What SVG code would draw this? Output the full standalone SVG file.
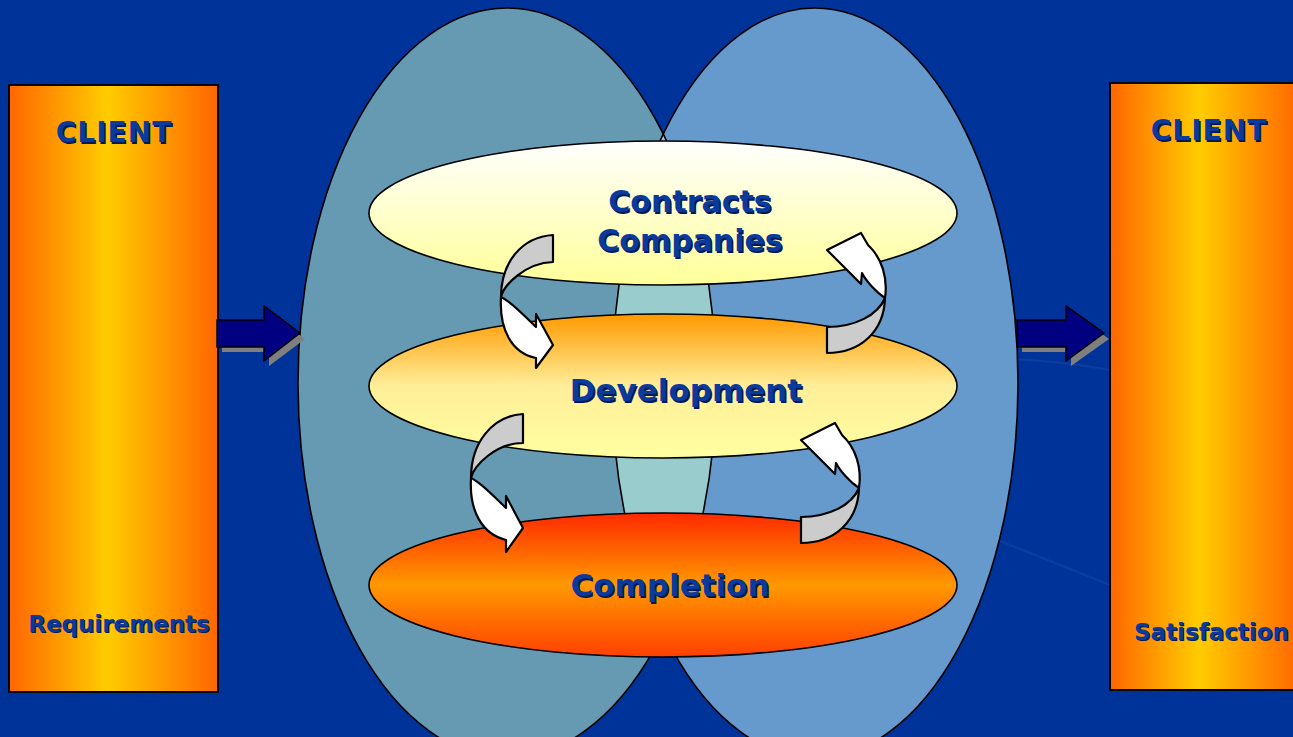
<svg xmlns="http://www.w3.org/2000/svg" width="1293" height="737" viewBox="0 0 1293 737">
<defs>
<style>
.t{font-family:"DejaVu Sans","Liberation Sans",sans-serif;font-weight:bold;fill:#0a3a9c}
.s{font-family:"DejaVu Sans","Liberation Sans",sans-serif;font-weight:bold;fill:#001a55}
.ol{stroke:#000;stroke-width:1.6}
.bar{fill:#000080;stroke:#000;stroke-width:1.5;stroke-linejoin:miter}
.sh{fill:#7f7f7f}
.cg{fill:#cccccc;stroke:#000;stroke-width:2.2;stroke-linejoin:round}
.cw{fill:#ffffff;stroke:#000;stroke-width:2.2;stroke-linejoin:round}
</style>
<linearGradient id="rg" x1="0" y1="0" x2="1" y2="0">
<stop offset="0" stop-color="#ff6600"/><stop offset="0.47" stop-color="#ffcc00"/><stop offset="1" stop-color="#ff6600"/>
</linearGradient>
<linearGradient id="g1" x1="0" y1="0" x2="0" y2="1">
<stop offset="0" stop-color="#ffffff"/><stop offset="1" stop-color="#ffff99"/>
</linearGradient>
<linearGradient id="g2" x1="0" y1="0" x2="0" y2="1">
<stop offset="0" stop-color="#ff9900"/><stop offset="0.5" stop-color="#ffee99"/><stop offset="1" stop-color="#ffffa0"/>
</linearGradient>
<linearGradient id="g3" x1="0" y1="0" x2="0" y2="1">
<stop offset="0" stop-color="#ff2a00"/><stop offset="0.5" stop-color="#ff9900"/><stop offset="1" stop-color="#ff4000"/>
</linearGradient>
<clipPath id="cr"><ellipse cx="815" cy="383" rx="203" ry="375"/></clipPath>
</defs>
<rect x="0" y="0" width="1293" height="737" fill="#003399"/>
<g id="bg-swoosh" fill="none" stroke="#6f8fd0" stroke-opacity="0.12" stroke-width="2">
<path d="M900 365 Q1000 350 1110 370"/>
<path d="M760 450 Q900 500 1110 585"/>
</g>
<g id="big-ellipses">
<ellipse cx="507" cy="383" rx="209" ry="375" fill="#6699b2"/>
<ellipse cx="815" cy="383" rx="203" ry="375" fill="#6699cc"/>
<ellipse cx="507" cy="383" rx="209" ry="375" fill="#99cccc" clip-path="url(#cr)"/>
<ellipse cx="507" cy="383" rx="209" ry="375" fill="none" class="ol"/>
<ellipse cx="815" cy="383" rx="203" ry="375" fill="none" class="ol"/>
</g>
<g id="client-left">
<rect x="9" y="85" width="209" height="607" fill="url(#rg)" stroke="#000" stroke-width="2"/>
<text class="s" x="115.5" y="143.5" font-size="28" text-anchor="middle" letter-spacing="1">CLIENT</text>
<text class="t" x="114" y="142" font-size="28" text-anchor="middle" letter-spacing="1">CLIENT</text>
<text class="s" x="120" y="633" font-size="23" text-anchor="middle">Requirements</text>
<text class="t" x="119" y="632" font-size="23" text-anchor="middle">Requirements</text>
</g>
<g id="client-right">
<rect x="1110" y="83" width="190" height="607" fill="url(#rg)" stroke="#000" stroke-width="2"/>
<text class="s" x="1210.5" y="141.5" font-size="28" text-anchor="middle" letter-spacing="1">CLIENT</text>
<text class="t" x="1209" y="140" font-size="28" text-anchor="middle" letter-spacing="1">CLIENT</text>
<text class="s" x="1135" y="641" font-size="23">Satisfaction</text>
<text class="t" x="1134" y="640" font-size="23">Satisfaction</text>
</g>
<g id="contracts">
<ellipse cx="663" cy="213" rx="294" ry="72" fill="url(#g1)" class="ol"/>
<text class="s" x="691.5" y="213.5" font-size="30" text-anchor="middle">Contracts</text>
<text class="t" x="690" y="212" font-size="30" text-anchor="middle">Contracts</text>
<text class="s" x="691.5" y="252.5" font-size="30" text-anchor="middle">Companies</text>
<text class="t" x="690" y="251" font-size="30" text-anchor="middle">Companies</text>
</g>
<g id="development">
<ellipse cx="663" cy="386" rx="294" ry="72" fill="url(#g2)" class="ol"/>
<text class="s" x="687.5" y="402.5" font-size="31" text-anchor="middle">Development</text>
<text class="t" x="686" y="401" font-size="31" text-anchor="middle">Development</text>
</g>
<g id="completion">
<ellipse cx="663" cy="585" rx="294" ry="72" fill="url(#g3)" class="ol"/>
<text class="s" x="671.5" y="597.5" font-size="31" text-anchor="middle">Completion</text>
<text class="t" x="670" y="596" font-size="31" text-anchor="middle">Completion</text>
</g>
<g id="connectors">
<g id="arrow-in">
<polygon class="sh" points="222,325 269,325 269,312 305,339 269,366 269,352 222,352"/>
<polygon class="bar" points="217,320 264,320 264,306 300,333 264,361 264,347 217,347"/>
</g>
<g id="arrow-out">
<polygon class="sh" points="1022,325 1071,325 1071,312 1109,339 1071,366 1071,352 1022,352"/>
<polygon class="bar" points="1017,320 1066,320 1066,306 1104,333 1066,361 1066,347 1017,347"/>
</g>
<g id="cyc-down-1">
<path class="cg" d="M553,235 C522,237 501,262 501,297 C504,285 525,263 553,262 Z"/>
<path class="cw" d="M501,297 C499,330 512,353 536,358 L536,368 L553,345 L536,314 L536,327 C524,316 512,302 501,297 Z"/>
</g>
<g id="cyc-up-1">
<path class="cg" d="M885,298 C884,332 860,353 827,353 L827,327 C855,327 878,315 885,298 Z"/>
<path class="cw" d="M885,298 C888,278 882,258 868,245 L861,233 L827,250 L861,284 L862,273 C866,281 876,292 885,298 Z"/>
</g>
<g id="cyc-down-2" transform="translate(-30,181)">
<path class="cg" d="M553,233 C522,235 501,262 501,297 C504,285 525,262 553,262 Z"/>
<path class="cw" d="M501,297 C499,330 512,353 536,359 L536,371 L553,347 L536,315 L536,327 C524,316 512,302 501,297 Z"/>
</g>
<g id="cyc-up-2" transform="translate(-26,190)">
<path class="cg" d="M885,298 C884,332 860,353 827,353 L827,327 C855,327 878,315 885,298 Z"/>
<path class="cw" d="M885,298 C888,278 882,258 868,245 L861,233 L827,250 L861,284 L862,273 C866,281 876,292 885,298 Z"/>
</g>
</g>
</svg>
